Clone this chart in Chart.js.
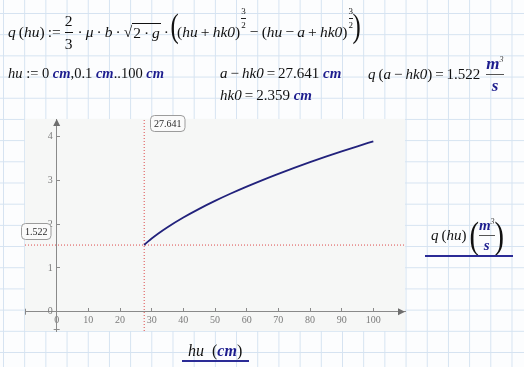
<!DOCTYPE html>
<html>
<head>
<meta charset="utf-8">
<script src="https://cdn.jsdelivr.net/npm/chart.js"></script>
<style>
html,body{margin:0;padding:0;width:524px;height:367px;overflow:hidden;}
body{
  position:relative;
  background-color:#fcfdfe;
  background-image:linear-gradient(to right,#d5e3f1 1px,transparent 1px),linear-gradient(to bottom,#d5e3f1 1px,transparent 1px);
  background-size:21.2px 21.2px;
  background-position:3px 13px;
  font-family:"Liberation Serif",serif;color:#111;
}
#c{position:absolute;left:0;top:0;width:524px;height:367px;}
.eq{position:absolute;display:flex;align-items:center;white-space:nowrap;line-height:1;}
.i{font-style:italic}
.u{color:#1d1d8e;font-weight:bold;font-style:italic}
.d{margin:0 3px;}
.frac{display:inline-flex;flex-direction:column;align-items:center;margin:0 2px;}
.frac .bar{height:1px;background:#111;align-self:stretch;margin:4px 0 3px 0;}
.exp{display:inline-flex;flex-direction:column;align-items:center;font-size:9px;align-self:flex-start;margin:0 1px;}
.exp .bar{height:0.8px;background:#222;align-self:stretch;margin:2px 0 2px 0;}
.big{font-size:33px;font-weight:200;line-height:1;transform:scaleX(0.75);position:relative;margin:0 -3px;}
.rad{border-top:1px solid #111;padding:1px 1px 0 1px;}
.uf{display:inline-flex;flex-direction:column;align-items:center;color:#1d1d8e;font-weight:bold;font-style:italic;margin-left:6px;font-size:17px;}
.uf .bar{height:1px;background:#555;align-self:stretch;margin:2px 0 2px 0;}
.line{position:absolute;height:2px;background:#2b2b96;}
</style>
</head>
<body>
<canvas id="c" width="524" height="367"></canvas>

<!-- q(hu) definition -->
<div class="eq" style="left:8px;top:7px;height:50px;font-size:15.5px;">
  <span class="i">q</span><span>&thinsp;(</span><span class="i">hu</span><span>)</span><span>&thinsp;:=</span>
  <span class="frac" style="margin-left:4px;"><span>2</span><span class="bar"></span><span>3</span></span>
  <span class="d">·</span><span class="i">μ</span><span class="d">·</span><span class="i">b</span><span class="d">·</span>
  <span>√</span><span class="rad">2<span class="d">·</span><span class="i">g</span></span>
  <span class="d">·</span>
  <span class="big" style="top:-6px;">(</span>
  <span>(<span class="i">hu</span>&thinsp;+&thinsp;<span class="i">hk0</span>)</span>
  <span class="exp"><span>3</span><span class="bar"></span><span>2</span></span>
  <span>&thinsp;−&thinsp;</span>
  <span>(<span class="i">hu</span>&thinsp;−&thinsp;<span class="i">a</span>&thinsp;+&thinsp;<span class="i">hk0</span>)</span>
  <span class="exp"><span>3</span><span class="bar"></span><span>2</span></span>
  <span class="big" style="top:-6px;">)</span>
</div>

<div class="eq" style="left:8px;top:65px;height:16px;font-size:14.5px;">
  <span class="i">hu</span><span>&nbsp;:=&nbsp;0&nbsp;</span><span class="u">cm</span><span>,0.1&nbsp;</span><span class="u">cm</span><span>..100&nbsp;</span><span class="u">cm</span>
</div>

<div class="eq" style="left:220px;top:65px;height:16px;font-size:15px;">
  <span class="i">a</span><span>&thinsp;−&thinsp;</span><span class="i">hk0</span><span>&thinsp;=&thinsp;27.641&nbsp;</span><span class="u">cm</span>
</div>
<div class="eq" style="left:220px;top:87px;height:16px;font-size:15px;">
  <span class="i">hk0</span><span>&thinsp;=&thinsp;2.359&nbsp;</span><span class="u">cm</span>
</div>

<div class="eq" style="left:368px;top:55px;height:38px;font-size:15px;">
  <span class="i">q</span><span>&thinsp;(</span><span class="i">a</span><span>&thinsp;−&thinsp;</span><span class="i">hk0</span><span>)&thinsp;=&thinsp;1.522</span>
  <span class="uf"><span>m<sup style="font-size:8px;font-weight:normal;color:#333;">3</sup></span><span class="bar"></span><span>s</span></span>
</div>

<!-- axis titles -->
<div class="eq" style="left:188px;top:342px;height:18px;font-size:16px;">
  <span class="i">hu</span><span>&nbsp;&nbsp;(</span><span class="u">cm</span><span>)</span>
</div>
<div class="line" style="left:182px;top:360px;width:67px;"></div>

<div class="eq" style="left:431px;top:216px;height:38px;font-size:15px;">
  <span class="i">q</span><span>&thinsp;(</span><span class="i">hu</span><span>)</span><span>&nbsp;</span>
  <span class="big" style="font-size:38px;margin:0 -2px;">(</span>
  <span class="uf" style="margin-left:0;font-size:15px;"><span>m<sup style="font-size:8px;font-weight:normal;color:#333;">3</sup></span><span class="bar"></span><span>s</span></span>
  <span class="big" style="font-size:38px;margin:0 -2px;">)</span>
</div>
<div class="line" style="left:425px;top:255px;width:88px;"></div>

<script>
// ---- data ----
const huValues = [27.641, 28, 29, 30, 32, 35, 40, 45, 50, 55, 60, 65, 70, 75, 80, 85, 90, 95, 100];
const qValues  = [1.522, 1.547, 1.612, 1.671, 1.781, 1.930, 2.151, 2.349, 2.530, 2.698, 2.856, 3.006, 3.148, 3.284, 3.414, 3.539, 3.660, 3.777, 3.891];
const xTickValues = [0, 10, 20, 30, 40, 50, 60, 70, 80, 90, 100];
const xTickLabels = ['0','10','20','30','40','50','60','70','80','90','100'];
const yTickValues = [0, 1, 2, 3, 4];
const yTickLabels = ['0','1','2','3','4'];
const markerHu = [27.641];
const markerQ  = [1.522];
const markerHuLabels = ['27.641'];
const markerQLabels  = ['1.522'];

const X_MIN = -10, X_MAX = 110, Y_MIN = -0.44, Y_MAX = 4.4;

const boxFill = {
  id: 'boxFill',
  beforeDraw(chart) {
    const {ctx, chartArea: a} = chart;
    ctx.save();
    ctx.fillStyle = '#f6f7f6';
    ctx.fillRect(a.left, a.top, a.right - a.left, a.bottom - a.top);
    ctx.restore();
  }
};

function tag(ctx, text, left, top) {
  ctx.font = '10px "Liberation Serif", serif';
  const w = ctx.measureText(text).width + 7;
  const h = 16;
  ctx.beginPath();
  ctx.roundRect(left + 0.5, top + 0.5, w, h, 4);
  ctx.fillStyle = '#fafafa';
  ctx.fill();
  ctx.strokeStyle = '#9c9c9c';
  ctx.lineWidth = 1;
  ctx.stroke();
  ctx.fillStyle = '#2a2a2a';
  ctx.textAlign = 'center';
  ctx.textBaseline = 'middle';
  ctx.fillText(text, left + 0.5 + w / 2, top + 0.5 + h / 2 + 0.5);
  return w;
}

const decor = {
  id: 'decor',
  afterDraw(chart) {
    const {ctx, chartArea: a, scales: {x, y}} = chart;
    const x0 = x.getPixelForValue(0), y0 = y.getPixelForValue(0);
    ctx.save();
    ctx.fillStyle = '#6e6e6e';
    ctx.beginPath();
    ctx.moveTo(a.right, y0); ctx.lineTo(a.right - 7, y0 - 3.5); ctx.lineTo(a.right - 7, y0 + 3.5); ctx.closePath(); ctx.fill();
    ctx.beginPath();
    ctx.moveTo(x0, a.top); ctx.lineTo(x0 - 3.5, a.top + 7); ctx.lineTo(x0 + 3.5, a.top + 7); ctx.closePath(); ctx.fill();
    ctx.strokeStyle = '#8a8a8a'; ctx.lineWidth = 1;
    ctx.beginPath();
    ctx.moveTo(Math.round(a.left) + 0.5, y0 - 3); ctx.lineTo(Math.round(a.left) + 0.5, y0 + 3);
    ctx.moveTo(x0 - 3, Math.round(a.bottom) - 1.5); ctx.lineTo(x0 + 3, Math.round(a.bottom) - 1.5);
    ctx.stroke();
    // marker value tags
    const mx = x.getPixelForValue(markerHu[0]);
    tag(ctx, markerHuLabels[0], Math.round(mx) + 6, Math.round(a.top) - 4);
    const my = y.getPixelForValue(markerQ[0]);
    tag(ctx, markerQLabels[0], Math.round(a.left) - 4, Math.round(my) - 22);
    ctx.restore();
  }
};

const tickFont = {family: '"Liberation Serif", serif', size: 10};

new Chart(document.getElementById('c'), {
  type: 'line',
  data: {
    datasets: [
      {
        data: huValues.map((v, i) => ({x: v, y: qValues[i]})),
        borderColor: '#22227c', borderWidth: 1.8, pointRadius: 0,
        cubicInterpolationMode: 'monotone', order: 0
      },
      {
        data: [{x: markerHu[0], y: Y_MIN}, {x: markerHu[0], y: Y_MAX}],
        borderColor: '#dd4b4b', borderWidth: 1, borderDash: [1, 2], pointRadius: 0, order: 1
      },
      {
        data: [{x: X_MIN, y: markerQ[0]}, {x: X_MAX, y: markerQ[0]}],
        borderColor: '#dd4b4b', borderWidth: 1, borderDash: [1, 2], pointRadius: 0, order: 1
      }
    ]
  },
  options: {
    responsive: false, animation: false, events: [],
    layout: {padding: {left: 25, top: 119, right: 119, bottom: 36}},
    plugins: {legend: {display: false}, tooltip: {enabled: false}},
    scales: {
      x: {
        type: 'linear', min: X_MIN, max: X_MAX, position: {y: 0},
        afterBuildTicks: s => { s.ticks = xTickValues.map(v => ({value: v})); },
        grid: {drawOnChartArea: false, drawTicks: true, tickLength: -4, color: '#8a8a8a'},
        border: {display: true, color: '#8a8a8a', width: 1},
        ticks: {color: '#7a7a7a', font: tickFont, padding: 7, maxRotation: 0, autoSkip: false,
          callback: (v, i) => xTickLabels[i]}
      },
      y: {
        type: 'linear', min: Y_MIN, max: Y_MAX, position: {x: 0},
        afterBuildTicks: s => { s.ticks = yTickValues.map(v => ({value: v})); },
        grid: {drawOnChartArea: false, drawTicks: true, tickLength: -4, color: '#8a8a8a'},
        border: {display: true, color: '#8a8a8a', width: 1},
        ticks: {color: '#7a7a7a', font: tickFont, padding: 4, autoSkip: false,
          callback: (v, i) => yTickLabels[i] + '\u2009\u2009'}
      }
    }
  },
  plugins: [boxFill, decor]
});
</script>
</body>
</html>
